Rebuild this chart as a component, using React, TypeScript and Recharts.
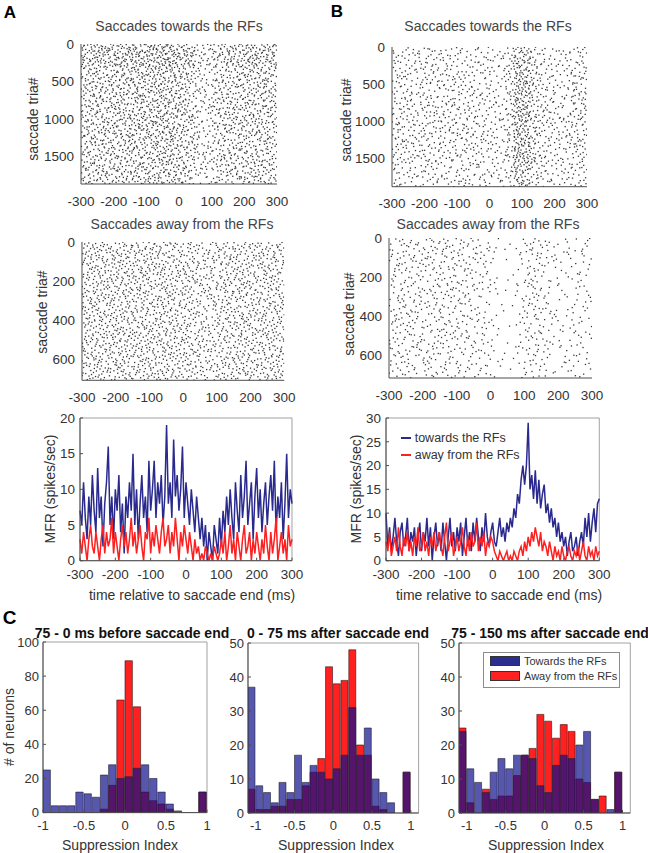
import React from 'react';
import {
  ScatterChart, Scatter, XAxis, YAxis, LineChart, Line, BarChart, Bar, Legend, ReferenceArea,
} from 'recharts';

const FONT = '"Liberation Sans", Arial, Helvetica, sans-serif';
const TEXT = '#333333';
const AXIS = '#4d4d4d';
const LINE_BLUE = '#2a2a8e';
const LINE_RED = '#ff1f1f';
const BAR_BLUE = '#10108f';
const BAR_RED = '#ff2020';

// ---------- rasters: dots counted per 25 ms column, spread over trial blocks ----------
const rasterBins = [-300, -275, -250, -225, -200, -175, -150, -125, -100, -75, -50, -25, 0, 25, 50, 75, 100, 125, 150, 175, 200, 225, 250, 275];
const timeTicks = [-300, -200, -100, 0, 100, 200, 300];

const rasterATowardsCols = [100, 105, 110, 105, 110, 110, 115, 120, 120, 125, 130, 120, 110, 95, 60, 55, 85, 95, 100, 100, 105, 105, 105, 100];
const rasterATowardsRows = [1.3, 1.0, 1.0, 1.0, 0.95, 0.95];
const rasterAAwayCols = [85, 90, 88, 85, 90, 88, 85, 90, 85, 88, 85, 80, 80, 75, 65, 65, 75, 80, 85, 85, 80, 82, 85, 85];
const rasterAAwayRows = [1, 1, 1, 1, 1, 1];
const rasterBTowardsCols = [60, 58, 55, 55, 58, 55, 55, 58, 55, 55, 52, 50, 45, 45, 70, 150, 140, 85, 60, 50, 48, 52, 65, 72];
const rasterBTowardsRows = [0.9, 1.0, 1.05, 1.1, 1.05, 0.9];
const rasterBAwayCols = [45, 50, 50, 45, 45, 50, 50, 50, 45, 40, 40, 35, 20, 8, 8, 25, 45, 50, 35, 22, 20, 25, 30, 30];
const rasterBAwayRows = [1.1, 1.0, 1.0, 1.0, 1.0, 0.9];

// ---------- mean firing rate, 5 ms steps from -300 to 300 ----------
const mfrATowards = [
  7, 5, 11, 6, 3, 9, 5, 12, 7, 4,
  13, 6, 9, 2, 8, 11, 16, 5, 9, 3,
  10, 7, 12, 4, 8, 1, 9, 6, 11, 7,
  15, 5, 10, 3, 8, 12, 6, 9, 4, 14,
  7, 10, 14, 6, 11, 8, 12, 5, 9, 19,
  8, 11, 6, 17, 9, 12, 7, 10, 16, 6,
  11, 8, 5, 10, 7, 4, 9, 6, 3, 6,
  2, 5, 0, 4, 2, 0, 5, 3, 1, 6,
  2, 7, 4, 9, 5, 10, 6, 3, 11, 7,
  4, 12, 6, 9, 14, 5, 8, 11, 3, 9,
  13, 6, 10, 4, 8, 11, 5, 9, 12, 7,
  14, 4, 9, 6, 11, 3, 8, 15, 6, 10,
  8,
];
const mfrAAway = [
  3, 1, 4, 2, 0, 3, 5, 2, 1, 4,
  2, 0, 3, 5, 1, 4, 2, 3, 6, 1,
  4, 2, 0, 3, 5, 2, 4, 1, 3, 6,
  2, 4, 1, 3, 5, 2, 0, 4, 3, 6,
  1, 4, 2, 5, 3, 1, 4, 6, 2, 3,
  5, 1, 4, 2, 6, 3, 0, 4, 2, 5,
  3, 1, 4, 2, 0, 3, 1, 2, 0, 1,
  0, 2, 1, 0, 1, 0, 2, 1, 0, 1,
  3, 1, 4, 0, 2, 5, 1, 3, 0, 4,
  2, 0, 3, 5, 1, 2, 4, 0, 3, 1,
  4, 2, 0, 3, 1, 5, 2, 0, 4, 1,
  3, 6, 0, 2, 4, 1, 3, 0, 5, 2,
  3,
];
const mfrBTowards = [
  10, 3, 7, 2, 5, 9, 4, 1, 6, 8,
  3, 5, 9, 2, 6, 4, 7, 1, 5, 8,
  2, 6, 4, 9, 3, 7, 0, 5, 8, 3,
  6, 2, 8, 4, 0, 5, 9, 3, 6, 2,
  7, 4, 8, 1, 5, 9, 3, 6, 2, 8,
  4, 9, 5, 2, 7, 4, 10, 5, 3, 6,
  8, 4, 3, 6, 9, 5, 7, 4, 8, 6,
  9, 7, 11, 9, 14, 12, 17, 20, 16, 20,
  29, 15, 18, 13, 19, 12, 17, 11, 14, 16,
  10, 12, 8, 11, 7, 9, 5, 8, 4, 6,
  3, 5, 1, 4, 6, 2, 3, 5, 1, 4,
  6, 3, 9, 5, 10, 4, 8, 11, 6, 12,
  13,
];
const mfrBAway = [
  4, 2, 6, 1, 3, 5, 2, 7, 3, 1,
  5, 3, 6, 2, 4, 1, 5, 3, 7, 2,
  3, 6, 2, 4, 1, 5, 3, 6, 2, 4,
  6, 3, 1, 5, 8, 2, 4, 6, 1, 3,
  5, 2, 4, 7, 3, 1, 5, 2, 6, 3,
  4, 8, 2, 5, 3, 6, 1, 4, 3, 5,
  4, 2, 1, 0, 2, 1, 0, 1, 2, 0,
  1, 0, 2, 1, 0, 2, 3, 1, 4, 2,
  5, 3, 6, 4, 7, 5, 3, 6, 2, 4,
  3, 1, 4, 2, 0, 3, 1, 2, 0, 3,
  1, 0, 2, 3, 1, 0, 2, 1, 3, 0,
  2, 4, 1, 0, 3, 1, 2, 0, 3, 1,
  2,
];

// ---------- suppression index histograms ----------
const siBinsLeft = [-0.95, -0.85, -0.75, -0.65, -0.55, -0.45, -0.35, -0.25, -0.15, -0.05, 0.05, 0.15, 0.25, 0.35, 0.45, 0.55, 0.65, 0.75, 0.85, 0.95];
const siBinsWide = [-1.05, -0.95, -0.85, -0.75, -0.65, -0.55, -0.45, -0.35, -0.25, -0.15, -0.05, 0.05, 0.15, 0.25, 0.35, 0.45, 0.55, 0.65, 0.75, 0.85, 0.95];
const siTicks = [-1, -0.5, 0, 0.5, 1];

const histBeforeTowards = [25, 4, 4, 4, 12, 11, 9, 22, 28, 20, 21, 26, 28, 20, 12, 5, 1, 0, 0, 12];
const histBeforeAway = [0, 0, 0, 0, 0, 0, 0, 2, 16, 66, 89, 62, 12, 7, 5, 2, 0, 0, 0, 12];
const histEarlyTowards = [37, 8, 6, 3, 9, 6, 17, 9, 14, 12, 10, 13, 17, 31, 17, 25, 10, 6, 3, 0, 12];
const histEarlyAway = [7, 1, 1, 2, 2, 4, 4, 8, 12, 16, 43, 38, 39, 48, 20, 17, 2, 1, 0, 0, 12];
const histLateTowards = [24, 13, 9, 6, 12, 16, 13, 17, 17, 16, 8, 6, 14, 17, 16, 20, 24, 4, 0, 1, 12];
const histLateAway = [25, 3, 0, 7, 4, 5, 5, 11, 17, 19, 29, 27, 22, 26, 24, 10, 9, 4, 5, 0, 12];

// van der Corput radical inverse (Halton coordinates)
function radical(i: number, base: number) {
  let f = 1;
  let r = 0;
  let n = i;
  while (n > 0) {
    f /= base;
    r += f * (n % base);
    n = Math.floor(n / base);
  }
  return r;
}

// Halton points over the whole raster, thinned so each cell keeps its counted density
function rasterDots(cols: number[], rows: number[], trials: number) {
  const rowSum = rows.reduce((a, b) => a + b, 0);
  const cell = (c: number, r: number) => (cols[c] * rows[r]) / rowSum;
  let maxCell = 0;
  cols.forEach((_, c) => rows.forEach((__, r) => { maxCell = Math.max(maxCell, cell(c, r)); }));
  const total = Math.round(cols.length * rows.length * maxCell);
  const dots: { t: number; trial: number }[] = [];
  for (let k = 1; k <= total; k++) {
    const u = radical(k, 2);
    const v = radical(k, 3);
    const w = radical(k, 5);
    const c = Math.min(cols.length - 1, Math.floor(u * cols.length));
    const r = Math.min(rows.length - 1, Math.floor(v * rows.length));
    if (w < cell(c, r) / maxCell) dots.push({ t: rasterBins[0] + 600 * u, trial: trials * v });
  }
  return dots;
}

const mfrData = (towards: number[], away: number[]) =>
  towards.map((v, i) => ({ t: -300 + 5 * i, towards: v, away: away[i] }));

const tickStyle = { fontSize: 13.5, fill: TEXT, fontFamily: FONT };

const Dot = (p: any) => (
  <rect x={p.cx - 0.65} y={p.cy - 0.65} width={1.3} height={1.3} fill="#383838" />
);

function Raster({ x, y, w, h, trials, yTicks, dots }: any) {
  const ML = 48, MT = 10, MR = 18, MB = 26;
  return (
    <div style={{ position: 'absolute', left: x - ML, top: y - MT }}>
      <ScatterChart width={ML + w + MR} height={MT + h + MB} margin={{ top: MT, right: MR, bottom: 0, left: 0 }}>
        <XAxis dataKey="t" type="number" domain={[-300, 300]} ticks={timeTicks} interval={0} height={MB}
          tickLine={false} tickSize={0} tickMargin={12} axisLine={{ stroke: AXIS }} tick={tickStyle} allowDataOverflow />
        <YAxis dataKey="trial" type="number" domain={[0, trials]} reversed ticks={yTicks} interval={0} width={ML}
          tickLine={false} tickSize={0} tickMargin={7} axisLine={{ stroke: AXIS }} tick={tickStyle} allowDataOverflow />
        <Scatter data={dots} shape={Dot} isAnimationActive={false} />
      </ScatterChart>
    </div>
  );
}

function MfrLegend({ payload }: any) {
  const items = [...(payload || [])].sort((a: any, b: any) => (a.dataKey === 'towards' ? -1 : 1) - (b.dataKey === 'towards' ? -1 : 1));
  return (
    <div style={{ fontFamily: FONT, fontSize: 12.5, color: TEXT }}>
      {items.map((p: any) => (
        <div key={p.value} style={{ display: 'flex', alignItems: 'center', height: 17, whiteSpace: 'nowrap' }}>
          <span style={{ display: 'inline-block', width: 10, height: 2.5, background: p.color, marginRight: 4 }} />
          {p.value}
        </div>
      ))}
    </div>
  );
}

function Mfr({ x, y, w, h, data, yMax, yTicks, legend }: any) {
  const ML = 36, MT = 10, MR = 18, MB = 24;
  return (
    <div style={{ position: 'absolute', left: x - ML, top: y - MT }}>
      <LineChart width={ML + w + MR} height={MT + h + MB} data={data} margin={{ top: MT, right: MR, bottom: 0, left: 0 }}>
        <XAxis dataKey="t" type="number" domain={[-300, 300]} ticks={timeTicks} interval={0} height={MB}
          tickSize={-3} tickMargin={12} tickLine={{ stroke: AXIS }} axisLine={{ stroke: AXIS }} tick={tickStyle} />
        <YAxis type="number" domain={[0, yMax]} ticks={yTicks} interval={0} width={ML}
          tickSize={-3} tickMargin={8} tickLine={{ stroke: AXIS }} axisLine={{ stroke: AXIS }} tick={tickStyle} allowDataOverflow />
        <ReferenceArea x1={-300} x2={300} y1={0} y2={yMax} fill="none" stroke="#8a8a8a" strokeWidth={0.8} ifOverflow="visible" />
        <Line dataKey="towards" name="towards the RFs" type="linear" stroke={LINE_BLUE} strokeWidth={1.5} dot={false} isAnimationActive={false} />
        <Line dataKey="away" name="away from the RFs" type="linear" stroke={LINE_RED} strokeWidth={1.5} dot={false} isAnimationActive={false} />
        {legend && (
          <Legend layout="vertical" align="center" verticalAlign="middle" content={<MfrLegend />}
            wrapperStyle={{ left: legend.left - (x - ML), top: legend.top - (y - MT), width: 'auto', height: 'auto' }} />
        )}
      </LineChart>
    </div>
  );
}

function HistLegend({ payload }: any) {
  const items = [...(payload || [])].sort((a: any, b: any) => (a.dataKey === 'towards' ? -1 : 1) - (b.dataKey === 'towards' ? -1 : 1));
  return (
    <div style={{ fontFamily: FONT, fontSize: 11, color: TEXT, background: '#fff', border: '1px solid #8c8c8c',
      width: 135, height: 33, boxSizing: 'content-box', paddingTop: 1 }}>
      {items.map((p: any) => (
        <div key={p.value} style={{ display: 'flex', alignItems: 'center', height: 15, whiteSpace: 'nowrap' }}>
          <span style={{ display: 'inline-block', width: 30, height: 10, marginLeft: 6, marginRight: 4,
            background: p.dataKey === 'towards' ? '#2b2f90' : BAR_RED, border: '0.5px solid #333', boxSizing: 'border-box' }} />
          {p.value}
        </div>
      ))}
    </div>
  );
}

function Histogram({ x, y, w, h, bins, towards, away, domain, yMax, yTicks, ML, legend }: any) {
  const MT = 10, MR = 10, MB = 22;
  const data = bins.map((b: number, i: number) => ({ si: b, towards: towards[i], away: away[i] }));
  const barSize = (w * 0.1) / (domain[1] - domain[0]);
  const hTick = { fontSize: 13, fill: TEXT, fontFamily: FONT };
  return (
    <div style={{ position: 'absolute', left: x - ML, top: y - MT }}>
      <BarChart width={ML + w + MR} height={MT + h + MB} data={data} margin={{ top: MT, right: MR, bottom: 0, left: 0 }}
        barGap={0} barCategoryGap={0}>
        <XAxis xAxisId="b" dataKey="si" type="number" domain={domain} ticks={siTicks} interval={0} height={MB}
          tickSize={-3} tickMargin={11} tickLine={{ stroke: AXIS }} axisLine={{ stroke: AXIS }} tick={hTick} allowDataOverflow />
        <XAxis xAxisId="t" dataKey="si" type="number" domain={domain} orientation="top" hide allowDataOverflow />
        <YAxis type="number" domain={[0, yMax]} ticks={yTicks} interval={0} width={ML}
          tickSize={-3} tickMargin={7} tickLine={{ stroke: AXIS }} axisLine={{ stroke: AXIS }} tick={hTick} allowDataOverflow />
        <Bar xAxisId="b" dataKey="away" name="Away from the RFs" fill={BAR_RED} stroke="#3a1010" strokeWidth={0.6}
          barSize={barSize} isAnimationActive={false} />
        <Bar xAxisId="t" dataKey="towards" name="Towards the RFs" fill={BAR_BLUE} fillOpacity={0.7} stroke="#202030"
          strokeWidth={0.6} barSize={barSize} isAnimationActive={false} />
        <ReferenceArea xAxisId="b" x1={domain[0]} x2={domain[1]} y1={0} y2={yMax} fill="none" stroke="#8a8a8a"
          strokeWidth={0.8} ifOverflow="visible" />
        {legend && (
          <Legend layout="vertical" align="center" verticalAlign="middle" content={<HistLegend />}
            wrapperStyle={{ left: legend.left - (x - ML), top: legend.top - (y - MT), width: 'auto', height: 'auto' }} />
        )}
      </BarChart>
    </div>
  );
}

function Label({ x, y, text, size = 14, bold = false, color = TEXT, rotate = false }: any) {
  return (
    <div style={{ position: 'absolute', left: x, top: y, transform: `translate(-50%, -50%)${rotate ? ' rotate(-90deg)' : ''}`,
      fontSize: size, fontWeight: bold ? 700 : 400, color, lineHeight: 1, whiteSpace: 'nowrap', fontFamily: FONT }}>
      {text}
    </div>
  );
}

export default function App() {
  const dotsATowards = rasterDots(rasterATowardsCols, rasterATowardsRows, 1870);
  const dotsAAway = rasterDots(rasterAAwayCols, rasterAAwayRows, 710);
  const dotsBTowards = rasterDots(rasterBTowardsCols, rasterBTowardsRows, 1880);
  const dotsBAway = rasterDots(rasterBAwayCols, rasterBAwayRows, 715);

  return (
    <div style={{ position: 'absolute', left: 0, top: 0, width: 648, height: 853, background: '#fff', overflow: 'hidden', fontFamily: FONT }}>
      {/* panel A */}
      <Raster x={81} y={44.3} w={196} h={140} trials={1870} yTicks={[0, 500, 1000, 1500]} dots={dotsATowards} />
      <Raster x={81.7} y={241.7} w={202.3} h={138.3} trials={710} yTicks={[0, 200, 400, 600]} dots={dotsAAway} />
      <Mfr x={80} y={418.3} w={212} h={142.7} data={mfrData(mfrATowards, mfrAAway)} yMax={20} yTicks={[0, 5, 10, 15, 20]} />

      {/* panel B */}
      <Raster x={392.3} y={47} w={195} h={139.7} trials={1880} yTicks={[0, 500, 1000, 1500]} dots={dotsBTowards} />
      <Raster x={389} y={238.3} w={203} h={140} trials={715} yTicks={[0, 200, 400, 600]} dots={dotsBAway} />
      <Mfr x={385.7} y={418.3} w={213.3} h={142.7} data={mfrData(mfrBTowards, mfrBAway)} yMax={30}
        yTicks={[0, 5, 10, 15, 20, 25, 30]} legend={{ left: 400.7, top: 429.5 }} />

      {/* panel C */}
      <Histogram x={43} y={641.7} w={164} h={170.6} bins={siBinsLeft} towards={histBeforeTowards} away={histBeforeAway}
        domain={[-1, 1]} yMax={100} yTicks={[0, 20, 40, 60, 80, 100]} ML={34} />
      <Histogram x={247.7} y={643.3} w={170.6} h={170} bins={siBinsWide} towards={histEarlyTowards} away={histEarlyAway}
        domain={[-1.1, 1.1]} yMax={50} yTicks={[0, 10, 20, 30, 40, 50]} ML={30} />
      <Histogram x={459} y={643.3} w={171.3} h={170} bins={siBinsWide} towards={histLateTowards} away={histLateAway}
        domain={[-1.1, 1.1]} yMax={50} yTicks={[0, 10, 20, 30, 40, 50]} ML={30} legend={{ left: 483, top: 651.7 }} />

      {/* text */}
      <Label x={10} y={12} text="A" size={17} bold color="#000" />
      <Label x={337} y={11} text="B" size={17} bold color="#000" />
      <Label x={9.5} y={617} text="C" size={19} bold color="#000" />

      <Label x={179} y={26} text="Saccades towards the RFs" color="#444" />
      <Label x={182} y={224.3} text="Saccades away from the RFs" color="#444" />
      <Label x={488} y={26} text="Saccades towards the RFs" color="#444" />
      <Label x={488} y={224.3} text="Saccades away from the RFs" color="#444" />

      <Label x={33} y={118.7} text="saccade tria#" rotate />
      <Label x={41.7} y={312} text="saccade tria#" rotate />
      <Label x={50} y={489} text="MFR (spikes/sec)" rotate />
      <Label x={345.7} y={120} text="saccade tria#" rotate />
      <Label x={349} y={313.5} text="saccade tria#" rotate />
      <Label x={355.7} y={489} text="MFR (spikes/sec)" rotate />

      <Label x={192} y={595} text="time relative to saccade end (ms)" />
      <Label x={499} y={595} text="time relative to saccade end (ms)" />

      <Label x={132} y={632.5} text="75 - 0 ms before saccade end" bold color="#111" />
      <Label x={338} y={632.5} text="0 - 75 ms after saccade end" bold color="#111" />
      <Label x={550} y={632.5} text="75 - 150 ms after saccade end" bold color="#111" />

      <Label x={9} y={727} text="# of neurons" rotate />
      <Label x={120} y={845} text="Suppression Index" />
      <Label x={336} y={845} text="Suppression Index" />
      <Label x={546} y={845} text="Suppression Index" />
    </div>
  );
}
